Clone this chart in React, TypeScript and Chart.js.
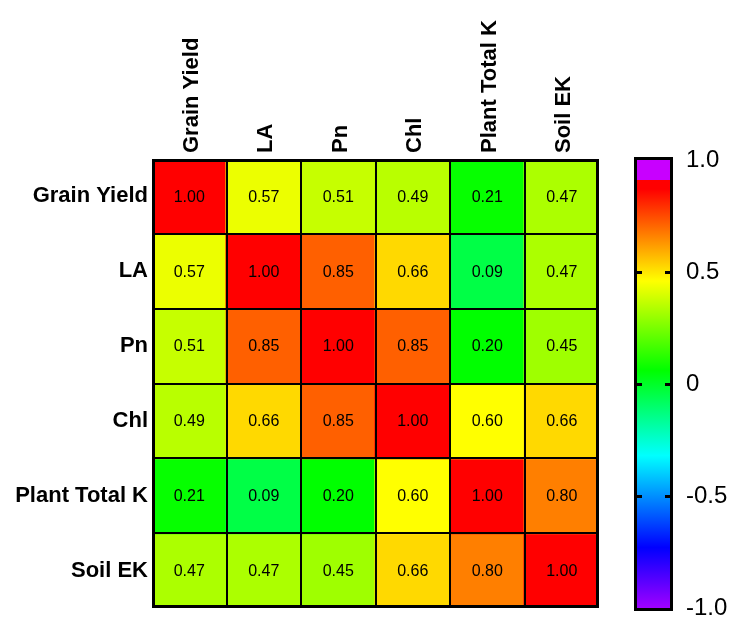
import { useEffect, useRef } from 'react';
import { Chart, registerables } from 'chart.js';

Chart.register(...registerables);

// ---------------- data ----------------
const variables = ['Grain Yield', 'LA', 'Pn', 'Chl', 'Plant Total K', 'Soil EK'];

const rowGrainYield = [1.0, 0.57, 0.51, 0.49, 0.21, 0.47];
const rowLA = [0.57, 1.0, 0.85, 0.66, 0.09, 0.47];
const rowPn = [0.51, 0.85, 1.0, 0.85, 0.2, 0.45];
const rowChl = [0.49, 0.66, 0.85, 1.0, 0.6, 0.66];
const rowPlantTotalK = [0.21, 0.09, 0.2, 0.6, 1.0, 0.8];
const rowSoilEK = [0.47, 0.47, 0.45, 0.66, 0.8, 1.0];

const correlationRows = [rowGrainYield, rowLA, rowPn, rowChl, rowPlantTotalK, rowSoilEK];

const colorbarMin = -1;
const colorbarMax = 1;
const colorbarStep = 0.5;
const colorbarInnerTicks = [-0.5, 0, 0.5];

// colour map used by the cells (value -> rgb)
const cellColorStops: [number, number[]][] = [
  [-0.2, [0, 255, 255]],
  [0.2, [0, 255, 0]],
  [0.6, [255, 255, 0]],
  [1.0, [255, 0, 0]],
];

// colour bar gradient (value -> css colour)
const barColorStops: [number, string][] = [
  [-1, '#a000ff'],
  [-0.73, '#0000ff'],
  [-0.32, '#00ffff'],
  [0.06, '#00ff00'],
  [0.46, '#ffff00'],
  [0.87, '#ff0000'],
  [0.91, '#ff0000'],
  [0.91, '#c800ff'],
  [1, '#c800ff'],
];

const FONT = "'Liberation Sans', Arial, Helvetica, sans-serif";

function cellColor(v: number): string {
  const s = cellColorStops;
  if (v <= s[0][0]) return `rgb(${s[0][1].join(',')})`;
  for (let i = 1; i < s.length; i++) {
    if (v <= s[i][0]) {
      const t = (v - s[i - 1][0]) / (s[i][0] - s[i - 1][0]);
      const c = s[i - 1][1].map((a, k) => Math.round(a + (s[i][1][k] - a) * t));
      return `rgb(${c.join(',')})`;
    }
  }
  return `rgb(${s[s.length - 1][1].join(',')})`;
}

const cellTextPlugin = {
  id: 'cellText',
  afterDatasetsDraw(chart: any) {
    const ctx = chart.ctx;
    const a = chart.chartArea;
    const xs = chart.scales.x;
    const ys = chart.scales.y;
    ctx.save();
    // cell separators
    ctx.strokeStyle = '#000';
    ctx.lineWidth = 2;
    ctx.beginPath();
    for (let i = 1; i < variables.length; i++) {
      const px = Math.round(xs.getPixelForValue(i - 0.5));
      ctx.moveTo(px, a.top);
      ctx.lineTo(px, a.bottom);
      const py = Math.round(ys.getPixelForValue(i));
      ctx.moveTo(a.left, py);
      ctx.lineTo(a.right, py);
    }
    ctx.stroke();
    // values
    ctx.fillStyle = '#000';
    ctx.font = `16px ${FONT}`;
    ctx.textAlign = 'center';
    ctx.textBaseline = 'middle';
    chart.data.datasets.forEach((_: any, r: number) => {
      const meta = chart.getDatasetMeta(r);
      meta.data.forEach((el: any, c: number) => {
        const p = el.getCenterPoint();
        ctx.fillText(correlationRows[r][c].toFixed(2), p.x, p.y + 1);
      });
    });
    // frame
    ctx.lineWidth = 3;
    ctx.strokeRect(a.left + 1.5, a.top + 1.5, a.right - a.left - 3, a.bottom - a.top - 3);
    ctx.restore();
  },
};

const colorbarFramePlugin = {
  id: 'cbFrame',
  afterDatasetsDraw(chart: any) {
    const ctx = chart.ctx;
    const a = chart.chartArea;
    const y = chart.scales.y;
    ctx.save();
    ctx.strokeStyle = '#000';
    ctx.lineWidth = 3;
    ctx.strokeRect(a.left - 1.5, a.top - 1.5, a.right - a.left + 3, a.bottom - a.top + 3);
    colorbarInnerTicks.forEach((v) => {
      const py = Math.round(y.getPixelForValue(v)) + 0.5;
      ctx.beginPath();
      ctx.moveTo(a.left - 2, py);
      ctx.lineTo(a.left + 5, py);
      ctx.moveTo(a.right + 2, py);
      ctx.lineTo(a.right - 5, py);
      ctx.stroke();
    });
    ctx.restore();
  },
};

export default function App() {
  const heatRef = useRef<HTMLCanvasElement>(null);
  const barRef = useRef<HTMLCanvasElement>(null);

  useEffect(() => {
    const heat = new Chart(heatRef.current!, {
      type: 'bar',
      data: {
        labels: variables,
        datasets: correlationRows.map((row, r) => ({
          label: variables[r],
          data: row.map(() => [r, r + 1]),
          backgroundColor: row.map(cellColor),
          borderWidth: 0,
          borderSkipped: false,
          inflateAmount: 1,
          grouped: false,
          barPercentage: 1,
          categoryPercentage: 1,
        })) as any,
      },
      options: {
        animation: false,
        responsive: false,
        layout: { padding: { left: 0, top: 0, right: 131, bottom: 9 } },
        plugins: { legend: { display: false }, tooltip: { enabled: false } },
        scales: {
          x: {
            position: 'top',
            grid: { display: false, drawTicks: false },
            border: { display: false },
            ticks: {
              autoSkip: false,
              minRotation: 90,
              maxRotation: 90,
              padding: 6,
              labelOffset: 29,
              color: '#000',
              font: { family: FONT, size: 22, weight: 'bold' },
            },
            afterFit: (s: any) => {
              s.height = 159;
              s.paddingLeft = 0;
              s.paddingRight = 0;
            },
          },
          y: {
            type: 'linear',
            min: 0,
            max: 6,
            reverse: true,
            grid: { display: false, drawTicks: false },
            border: { display: false },
            afterBuildTicks: (s: any) => {
              s.ticks = variables.map((_, i) => ({ value: i + 0.5 }));
            },
            ticks: {
              autoSkip: false,
              padding: 4,
              color: '#000',
              font: { family: FONT, size: 22, weight: 'bold' },
              callback: (v: any) => variables[Math.floor(Number(v))],
            },
            afterFit: (s: any) => {
              s.width = 152;
              s.paddingTop = 0;
              s.paddingBottom = 0;
            },
          },
        } as any,
      },
      plugins: [cellTextPlugin],
    });

    const bar = new Chart(barRef.current!, {
      type: 'bar',
      data: {
        labels: ['scale'],
        datasets: [
          {
            data: [[colorbarMin, colorbarMax]] as any,
            backgroundColor: (c: any) => {
              const chart = c.chart;
              const ys = chart.scales?.y;
              if (!chart.chartArea || !ys) return '#00ff00';
              const y0 = ys.getPixelForValue(colorbarMin);
              const y1 = ys.getPixelForValue(colorbarMax);
              const g = chart.ctx.createLinearGradient(0, y0, 0, y1);
              barColorStops.forEach(([v, col]) => {
                g.addColorStop((v - colorbarMin) / (colorbarMax - colorbarMin), col);
              });
              return g;
            },
            borderWidth: 0,
            barPercentage: 1,
            categoryPercentage: 1,
          },
        ],
      },
      options: {
        animation: false,
        responsive: false,
        layout: { padding: { left: 637, top: 160, right: 0, bottom: 9 } },
        plugins: { legend: { display: false }, tooltip: { enabled: false } },
        scales: {
          x: { display: false },
          y: {
            position: 'right',
            min: colorbarMin,
            max: colorbarMax,
            grid: { display: false, drawTicks: false },
            border: { display: false },
            ticks: {
              stepSize: colorbarStep,
              padding: 16,
              color: '#000',
              font: { family: FONT, size: 24 },
              callback: (v: any) => (Number(v) === 0 ? '0' : Number(v).toFixed(1)),
            },
            afterFit: (s: any) => {
              s.width = 60;
              s.paddingTop = 0;
              s.paddingBottom = 0;
            },
          },
        } as any,
      },
      plugins: [colorbarFramePlugin],
    });

    return () => {
      heat.destroy();
      bar.destroy();
    };
  }, []);

  return (
    <div style={{ position: 'absolute', left: 0, top: 0, width: 730, height: 617, background: '#fff' }}>
      <canvas ref={heatRef} width={730} height={617} style={{ position: 'absolute', left: 0, top: 0 }} />
      <canvas ref={barRef} width={730} height={617} style={{ position: 'absolute', left: 0, top: 0 }} />
    </div>
  );
}
